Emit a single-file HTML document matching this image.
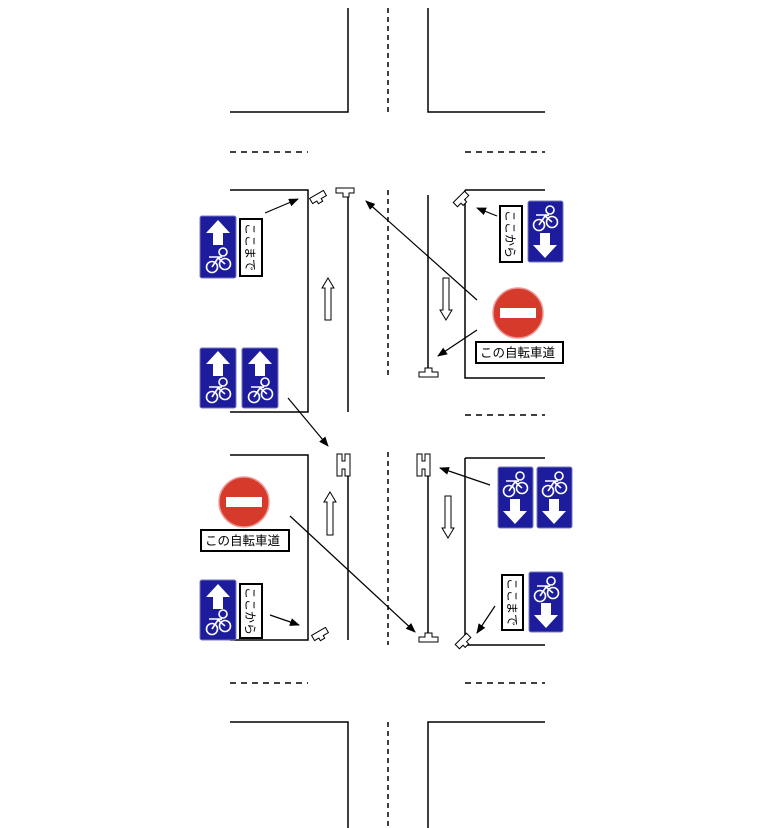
<!DOCTYPE html>
<html><head><meta charset="utf-8"><style>
html,body{margin:0;padding:0;background:#fff;}
svg{display:block;}
text{font-family:"Liberation Sans","Noto Sans CJK JP",sans-serif;}
</style></head><body>
<svg width="777" height="828" viewBox="0 0 777 828" xmlns="http://www.w3.org/2000/svg">
<defs>
<marker id="ah" markerWidth="10" markerHeight="8" refX="9" refY="4" orient="auto" markerUnits="userSpaceOnUse">
<path d="M0,0 L10,4 L0,8 Z" fill="#000"/>
</marker>
<g id="bike" fill="none" stroke="#fff" stroke-width="1.6">
<circle cx="-6" cy="7" r="5.5"/><circle cx="7" cy="4" r="5.5"/><circle cx="5" cy="-8" r="4"/>
<path d="M-6,7 L0,-2 L7,4 M-9,-3 L4,-3 L0,-2"/>
</g>
<g id="up"><path d="M0,-13 L12,0 L5,0 L5,12 L-5,12 L-5,0 L-12,0 Z" fill="#fff"/></g>
</defs>
<g stroke="#000" stroke-width="1.5" fill="none">
<path d="M348,8 V112 H230 M428,8 V112 H545"/>
<path d="M230,152 H308 M465,152 H545 M465,415 H545 M230,683 H308 M465,683 H545" stroke-dasharray="6,5"/>
<path d="M230,190 H308 V412 H230 M348,195 V412"/>
<path d="M465,190 H545 M465,190 V378 H545 M428,195 V370"/>
<path d="M230,455 H308 V640 H230 M348,470 V640"/>
<path d="M465,458 H545 M465,458 V645 H545 M428,470 V635"/>
<path d="M348,828 V722 H230 M428,828 V722 H545"/>
<path d="M388,8 V112 M388,190 V378 M388,452 V645 M388,722 V828" stroke-dasharray="5,4"/>
</g>
<g fill="#fff" stroke="#000" stroke-width="1">
<path d="M328,278 L334,288 L331,288 L331,320 L325,320 L325,288 L322,288 Z"/>
<path d="M446,320 L452,310 L449,310 L449,278 L443,278 L443,310 L440,310 Z"/>
<path d="M330,492 L336,502 L333,502 L333,535 L327,535 L327,502 L324,502 Z"/>
<path d="M448,538 L454,528 L451,528 L451,496 L445,496 L445,528 L442,528 Z"/>
<path d="M336,188 H354 V193 H349 V197 H343 V193 H336 Z"/>
<path d="M419,377 H438 V372 H432 V368 H425 V372 H419 Z"/>
<path d="M419,642 H438 V637 H432 V633 H425 V637 H419 Z"/>
<path d="M337,454 H342 V461 H345 V454 H350 V476 H345 V469 H342 V476 H337 Z"/>
<path d="M417,454 H422 V461 H425 V454 H430 V476 H425 V469 H422 V476 H417 Z"/>
<g transform="translate(318,197) rotate(-30)"><path d="M-8,-3 H8 V3 H2 V6 H-3 V3 H-8 Z"/></g>
<g transform="translate(461,199) rotate(-45)"><path d="M-8,-3 H8 V3 H2 V6 H-3 V3 H-8 Z"/></g>
<g transform="translate(320,634) rotate(-30)"><path d="M-8,-3 H8 V3 H2 V6 H-3 V3 H-8 Z"/></g>
<g transform="translate(463,641) rotate(-45)"><path d="M-8,-3 H8 V3 H2 V6 H-3 V3 H-8 Z"/></g>
</g>
<g stroke="#000" stroke-width="1.2" marker-end="url(#ah)">
<line x1="265" y1="213" x2="298" y2="199"/>
<line x1="477" y1="300" x2="366" y2="201"/>
<line x1="477" y1="330" x2="438" y2="356"/>
<line x1="497" y1="216" x2="477" y2="208"/>
<line x1="288" y1="398" x2="328" y2="446"/>
<line x1="290" y1="516" x2="415" y2="632"/>
<line x1="490" y1="485" x2="440" y2="468"/>
<line x1="270" y1="615" x2="299" y2="625"/>
<line x1="495" y1="606" x2="477" y2="633"/>
</g>
<g fill="#1c1c9c" stroke="#7777bb" stroke-width="1">
<rect x="200" y="216" width="36" height="62" rx="2"/>
<rect x="200" y="348" width="36" height="60" rx="2"/>
<rect x="242" y="348" width="36" height="60" rx="2"/>
<rect x="528" y="201" width="35" height="61" rx="2"/>
<rect x="498" y="467" width="35" height="61" rx="2"/>
<rect x="537" y="467" width="35" height="61" rx="2"/>
<rect x="529" y="572" width="34" height="60" rx="2"/>
<rect x="200" y="580" width="36" height="60" rx="2"/>
</g>
<use href="#up" x="218" y="233"/><use href="#bike" x="218" y="260"/>
<use href="#up" x="218" y="364"/><use href="#bike" x="218" y="390"/>
<use href="#up" x="260" y="364"/><use href="#bike" x="260" y="390"/>
<use href="#up" x="218" y="597"/><use href="#bike" x="218" y="622"/>
<use href="#up" transform="translate(545,245) rotate(180)"/><use href="#bike" x="545" y="218"/>
<use href="#up" transform="translate(515,511) rotate(180)"/><use href="#bike" x="515" y="484"/>
<use href="#up" transform="translate(554,511) rotate(180)"/><use href="#bike" x="554" y="484"/>
<use href="#up" transform="translate(546,615) rotate(180)"/><use href="#bike" x="546" y="589"/>
<g fill="#fff" stroke="#000" stroke-width="2">
<rect x="240" y="219" width="22" height="57"/>
<rect x="500" y="206" width="22" height="56"/>
<rect x="240" y="584" width="22" height="54"/>
<rect x="502" y="575" width="21" height="55"/>
<rect x="476" y="342" width="87" height="21"/>
<rect x="201" y="530" width="88" height="21"/>
</g>
<g font-size="12" fill="#000">
<text transform="translate(246,223) rotate(90)">ここまで</text>
<text transform="translate(506,210) rotate(90)">ここから</text>
<text transform="translate(246,587) rotate(90)">ここから</text>
<text transform="translate(508,578) rotate(90)">ここまで</text>
<text x="480" y="357" font-size="12.5">この自転車道</text>
<text x="205" y="545" font-size="12.5">この自転車道</text>
</g>
<g>
<circle cx="518" cy="313" r="25" fill="#d63a2a" stroke="#e99" stroke-width="1.5"/>
<rect x="500" y="308" width="36" height="10" fill="#fff"/>
<circle cx="244" cy="502" r="25" fill="#d63a2a" stroke="#e99" stroke-width="1.5"/>
<rect x="226" y="497" width="36" height="10" fill="#fff"/>
</g>
</svg>
</body></html>
